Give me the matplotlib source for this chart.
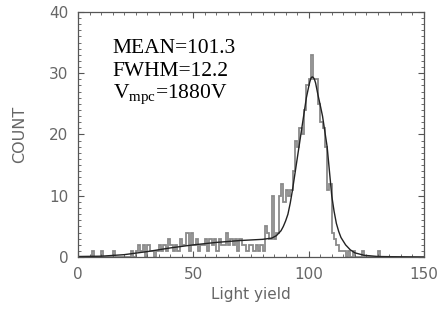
import matplotlib
matplotlib.use("Agg")
import matplotlib.pyplot as plt
from matplotlib.ticker import MultipleLocator
import numpy as np

# histogram, 1 unit bins from 0 to 150
bin_edges = np.arange(0, 151, 1)
counts = [
    0, 0, 0, 0, 0, 0, 1, 0, 0, 0,
    1, 0, 0, 0, 0, 1, 0, 0, 0, 0,
    0, 0, 0, 1, 0, 1, 2, 1, 2, 0,
    2, 1, 1, 0, 1, 2, 1, 2, 1, 3,
    2, 1, 2, 1, 3, 2, 2, 4, 1, 4,
    2, 3, 1, 2, 2, 3, 1, 3, 2, 3,
    1, 3, 2, 2, 4, 2, 3, 2, 3, 1,
    3, 2, 2, 1, 2, 2, 1, 2, 1, 2,
    1, 5, 4, 3, 10, 3, 4, 10, 12, 9,
    11, 10, 11, 14, 19, 18, 21, 20, 24, 28,
    29, 33, 29, 29, 25, 22, 21, 18, 11, 12,
    4, 3, 2, 1, 1, 1, 0, 1, 0, 1,
    0, 0, 0, 1, 0, 0, 0, 0, 0, 0,
    1, 0, 0, 0, 0, 0, 0, 0, 0, 0,
    0, 0, 0, 0, 0, 0, 0, 0, 0, 0,
]

# fitted curve
fit_x = [0, 10, 20, 30, 40, 50, 60, 70, 80, 84, 86, 88, 89, 90, 91, 92, 93, 94, 95,
         96, 97, 98, 99, 100, 100.5, 101, 101.5, 102, 102.5, 103, 104, 105, 106, 107,
         108, 109, 110, 111, 112, 113, 114, 116, 118, 120, 124, 130, 140, 150]
fit_y = [0.1, 0.15, 0.4, 0.9, 1.5, 2.0, 2.4, 2.7, 2.9, 3.1, 3.5, 4.3, 5.0, 5.9, 7.0, 8.8, 11.0, 13.5, 16.0,
         18.5, 21.0, 23.5, 26.0, 27.8, 28.6, 29.2, 29.4, 29.3, 29.0, 28.4, 26.5, 24.8, 23.0, 20.5,
         18.0, 14.0, 10.0, 7.5, 5.5, 4.2, 3.2, 2.0, 1.2, 0.7, 0.3, 0.1, 0.05, 0.0]

x_ticks = [0, 50, 100, 150]
y_ticks = [0, 10, 20, 30, 40]
notes = ["MEAN=101.3", "FWHM=12.2", r"V$_{\mathrm{mpc}}$=1880V"]

plt.rcParams["mathtext.fontset"] = "custom"
plt.rcParams["mathtext.rm"] = "Liberation Serif"
plt.rcParams["mathtext.it"] = "Liberation Serif:italic"

fig = plt.figure(figsize=(4.44, 3.21), dpi=100)
ax = fig.add_axes([0.1757, 0.199, 0.7793, 0.764])

ax.stairs(counts, bin_edges, color="#8a8a8a", linewidth=1.3)
ax.plot(fit_x, fit_y, color="#222222", linewidth=1.0)

ax.set_xlim(0, 150)
ax.set_ylim(0, 40)
ax.set_xticks(x_ticks)
ax.set_yticks(y_ticks)
ax.xaxis.set_minor_locator(MultipleLocator(5))
ax.yaxis.set_minor_locator(MultipleLocator(1))
ax.tick_params(which="both", direction="in", top=True, right=True, color="#555555")
ax.tick_params(which="major", length=4, width=0.8, pad=7, labelsize=11, labelcolor="#666666")
ax.tick_params(which="minor", length=2, width=0.6)
for s in ax.spines.values():
    s.set_color("#555555")
    s.set_linewidth(0.9)

ax.set_xlabel("Light yield", fontsize=11, color="#666666", labelpad=4)
ax.set_ylabel("COUNT", fontsize=11.5, color="#666666", labelpad=16)

# fit results
serif = ["Liberation Serif", "DejaVu Serif"]
for i, t in enumerate(notes):
    ax.text(0.1, 0.85 - i * 0.092, t, transform=ax.transAxes, fontsize=15.5,
            family=serif, color="black", va="center", ha="left")

fig.savefig("out.png", dpi=100)
